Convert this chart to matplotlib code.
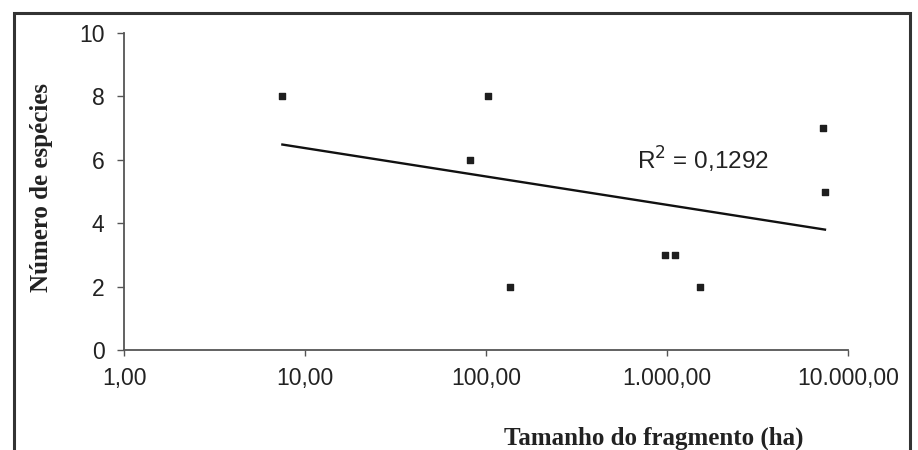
import matplotlib
matplotlib.use("Agg")
import matplotlib.pyplot as plt
import numpy as np
from matplotlib.patches import Rectangle
from matplotlib.ticker import FixedLocator, NullLocator

# fragment size (ha) and number of species
area_ha = [7.5, 82, 103, 136, 975, 1107, 1520, 7280, 7460]
species = [8, 6, 8, 2, 3, 3, 2, 7, 5]

x_ticks = [1, 10, 100, 1000, 10000]
x_tick_labels = ["1,00", "10,00", "100,00", "1.000,00", "10.000,00"]
y_ticks = [0, 2, 4, 6, 8, 10]
r2_text = "R$^2$ = 0,1292"

fig = plt.figure(figsize=(9.18, 4.5), dpi=100)
ax = fig.add_axes([124 / 918, 100 / 450, 724 / 918, 317 / 450])

ax.scatter(area_ha, species, marker="s", s=24, color="#1e1e1e", zorder=3)

# logarithmic trendline (least squares on log10 x)
lx = np.log10(area_ha)
slope, intercept = np.polyfit(lx, species, 1)
fit_x = np.array([min(area_ha), max(area_ha)])
ax.plot(fit_x, intercept + slope * np.log10(fit_x), color="#111111", lw=1.7)

ax.text(683, 6.0, r2_text, fontsize=17.5, family="Liberation Sans",
        color="#222222", va="center", ha="left")

ax.set_xscale("log")
ax.set_xlim(1, 10000)
ax.set_ylim(0, 10)
ax.xaxis.set_major_locator(FixedLocator(x_ticks))
ax.xaxis.set_minor_locator(NullLocator())
ax.set_xticklabels(x_tick_labels)
ax.set_yticks(y_ticks)

for side in ["top", "right"]:
    ax.spines[side].set_visible(False)
for side in ["left", "bottom"]:
    ax.spines[side].set_color("#555555")
    ax.spines[side].set_linewidth(1.3)

ax.tick_params(axis="both", direction="out", width=1, color="#555555",
               labelsize=16.5, labelcolor="#222222")
ax.tick_params(axis="x", length=4, pad=8)
ax.tick_params(axis="y", length=5, pad=9)
for lbl in ax.get_xticklabels() + ax.get_yticklabels():
    lbl.set_family("Liberation Sans")

fig.text(654 / 918, 1 - 438 / 450, "Tamanho do fragmento (ha)", fontsize=18,
         family="Liberation Serif", weight="bold", color="#222222",
         ha="center", va="center")
fig.text(42 / 918, 1 - 188 / 450, "Número de espécies", fontsize=18,
         family="Liberation Serif", weight="bold", color="#222222",
         ha="center", va="center", rotation=90)

# outer chart border (bottom edge falls outside the picture)
fig.patches.append(Rectangle((14 / 918, -0.05), 896 / 918, 1.05 - 13 / 450,
                             transform=fig.transFigure, fill=False,
                             edgecolor="#333333", lw=2.2))

fig.savefig("out.png", dpi=100)
